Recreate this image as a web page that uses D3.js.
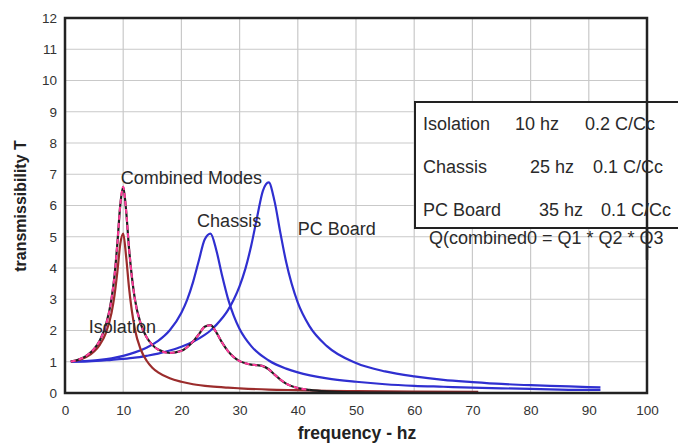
<!DOCTYPE html>
<html>
<head>
<meta charset="utf-8">
<script src="https://cdn.jsdelivr.net/npm/d3@7"></script>
<style>
  html, body { margin: 0; padding: 0; background: #fff; }
  svg { display: block; font-family: "Liberation Sans", Arial, Helvetica, sans-serif; }
</style>
</head>
<body>
<svg id="chart" width="678" height="443"></svg>
<script>
// ---- data ----
const xTicks = [0, 10, 20, 30, 40, 50, 60, 70, 80, 90, 100];
const yTicks = [0, 1, 2, 3, 4, 5, 6, 7, 8, 9, 10, 11, 12];

// Isolation mode (10 hz)
const isoFreq = [1, 2, 3, 4, 5, 6, 7, 8, 8.5, 9, 9.5, 10, 10.5, 11, 12, 13, 14, 15, 16, 18, 20, 22, 25, 28, 30, 35, 40, 45, 50, 60, 71];
const isoT    = [1.01, 1.04, 1.10, 1.19, 1.33, 1.55, 1.91, 2.57, 3.12, 3.88, 4.77, 5.10, 4.37, 3.37, 2.05, 1.40, 1.04, 0.81, 0.66, 0.47, 0.36, 0.28, 0.21, 0.17, 0.15, 0.11, 0.09, 0.07, 0.06, 0.045, 0.035];

// Chassis mode (25 hz)
const chFreq = [1, 2, 4, 6, 8, 10, 12, 14, 16, 18, 20, 21, 22, 23, 24, 25, 26, 27, 28, 29, 30, 32, 35, 38, 40, 45, 50, 55, 60, 65, 70, 75, 80, 85, 90, 92];
const chT    = [1.00, 1.01, 1.03, 1.06, 1.11, 1.19, 1.30, 1.45, 1.67, 2.01, 2.57, 2.99, 3.55, 4.24, 4.91, 5.10, 4.57, 3.75, 3.02, 2.47, 2.05, 1.50, 1.04, 0.78, 0.66, 0.47, 0.36, 0.28, 0.23, 0.20, 0.17, 0.15, 0.13, 0.11, 0.10, 0.10];

// PC Board mode (35 hz)
const pcFreq = [1, 4, 8, 10, 12, 14, 16, 18, 20, 22, 24, 25, 26, 28, 29, 30, 31, 32, 33, 34, 35, 36, 37, 38, 40, 42, 45, 50, 55, 60, 65, 70, 75, 80, 85, 90, 92];
const pcT    = [1.00, 1.01, 1.06, 1.09, 1.13, 1.19, 1.26, 1.36, 1.48, 1.64, 1.86, 2.00, 2.18, 2.65, 2.99, 3.42, 3.98, 4.72, 5.62, 6.47, 6.74, 6.14, 5.13, 4.19, 2.89, 2.14, 1.50, 0.96, 0.69, 0.53, 0.42, 0.35, 0.29, 0.25, 0.22, 0.19, 0.18];

// Combined modes
const cmbFreq = [1, 2, 3, 4, 5, 6, 7, 8, 8.5, 9, 9.5, 10, 10.5, 11, 12, 13, 14, 15, 16, 18, 20, 21, 22, 23, 24, 25, 26, 27, 28, 29, 30, 31, 32, 33, 34, 35, 36, 37, 38, 40, 42, 45, 50, 55, 60, 71];
const cmbT    = [1.01, 1.05, 1.12, 1.24, 1.41, 1.69, 2.16, 3.02, 3.74, 4.79, 6.02, 6.60, 5.84, 4.63, 3.01, 2.22, 1.79, 1.54, 1.39, 1.28, 1.35, 1.47, 1.65, 1.88, 2.12, 2.17, 1.94, 1.61, 1.34, 1.15, 1.02, 0.95, 0.91, 0.89, 0.86, 0.76, 0.59, 0.43, 0.30, 0.16, 0.10, 0.05, 0.02, 0.01, 0.006, 0.002];

// Annotation texts
const curveLabels = [
  { text: "Combined Modes", f: 9.6, T: 6.69 },
  { text: "Chassis", f: 22.7, T: 5.31 },
  { text: "PC Board", f: 40.0, T: 5.06 },
  { text: "Isolation", f: 4.1, T: 1.92 }
];
const legendRows = [
  ["Isolation", "10 hz", "0.2 C/Cc"],
  ["Chassis", "25 hz", "0.1 C/Cc"],
  ["PC Board", "35 hz", "0.1 C/Cc"]
];
const formulaText = "Q(combined0 = Q1 * Q2 * Q3";
const xTitle = "frequency - hz";
const yTitle = "transmissibility T";

// ---- drawing ----
const svg = d3.select("#chart");
const L = 65, R = 647, T0 = 18, B = 393;
const x = d3.scaleLinear().domain([0, 100]).range([L, R]);
const y = d3.scaleLinear().domain([0, 12]).range([B, T0]);

// grid
svg.append("g").selectAll("line").data(xTicks.slice(1, -1)).join("line")
  .attr("x1", d => x(d)).attr("x2", d => x(d)).attr("y1", T0).attr("y2", B)
  .attr("stroke", "#c9c9c9").attr("stroke-width", 1.2);
svg.append("g").selectAll("line").data(yTicks.slice(1, -1)).join("line")
  .attr("x1", L).attr("x2", R).attr("y1", d => y(d)).attr("y2", d => y(d))
  .attr("stroke", "#c9c9c9").attr("stroke-width", 1.2);

// axes (labels only, via d3 axis)
const xAxis = svg.append("g").attr("transform", `translate(0,${B})`)
  .call(d3.axisBottom(x).tickValues(xTicks).tickSize(0).tickPadding(12).tickFormat(d3.format("d")));
const yAxis = svg.append("g").attr("transform", `translate(${L},0)`)
  .call(d3.axisLeft(y).tickValues(yTicks).tickSize(0).tickPadding(8).tickFormat(d3.format("d")));
[xAxis, yAxis].forEach(a => {
  a.select(".domain").remove();
  a.selectAll("text").attr("font-size", 13.5).attr("fill", "#333")
    .attr("font-family", "'Liberation Sans', Arial, sans-serif");
});

// curves
const line = d3.line().x(d => x(d[0])).y(d => y(d[1])).curve(d3.curveMonotoneX);
const zip = (a, b) => a.map((v, i) => [v, b[i]]);

const g = svg.append("g");
g.append("path").datum(zip(chFreq, chT)).attr("d", line)
  .attr("fill", "none").attr("stroke", "#2f2fd0").attr("stroke-width", 2.2);
g.append("path").datum(zip(pcFreq, pcT)).attr("d", line)
  .attr("fill", "none").attr("stroke", "#2f2fd0").attr("stroke-width", 2.2);
g.append("path").datum(zip(isoFreq, isoT)).attr("d", line)
  .attr("fill", "none").attr("stroke", "#9b2c2c").attr("stroke-width", 2.2);
g.append("path").datum(zip(cmbFreq, cmbT)).attr("d", line)
  .attr("fill", "none").attr("stroke", "#1e1e1e").attr("stroke-width", 2.2);
g.append("path").datum(zip(cmbFreq, cmbT).filter(d => d[0] <= 42)).attr("d", line)
  .attr("fill", "none").attr("stroke", "#ff3c9a").attr("stroke-width", 2)
  .attr("stroke-dasharray", "5,3");

// plot frame
svg.append("rect").attr("x", L).attr("y", T0).attr("width", R - L).attr("height", B - T0)
  .attr("fill", "none").attr("stroke", "#222").attr("stroke-width", 2.5);

// curve labels
svg.append("g").selectAll("text").data(curveLabels).join("text")
  .attr("x", d => x(d.f)).attr("y", d => y(d.T))
  .attr("font-size", 18).attr("fill", "#2a2a2a")
  .text(d => d.text);

// legend box
const lg = svg.append("g");
lg.append("rect").attr("x", 415).attr("y", 102).attr("width", 300).attr("height", 126)
  .attr("fill", "#fff").attr("stroke", "#222").attr("stroke-width", 2);
// plot frame line passing over the box
lg.append("line").attr("x1", R).attr("x2", R).attr("y1", 102).attr("y2", 260)
  .attr("stroke", "#222").attr("stroke-width", 2.5);
const colX = [
  [423, 515, 585],
  [423, 530, 593],
  [423, 539, 601]
];
const rowY = [129.5, 172.5, 215.5];
legendRows.forEach((row, i) => {
  row.forEach((t, j) => {
    lg.append("text").attr("x", colX[i][j]).attr("y", rowY[i])
      .attr("font-size", 18).attr("fill", "#2a2a2a").text(t);
  });
});
lg.append("text").attr("x", 429).attr("y", 243.5).attr("font-size", 18)
  .attr("fill", "#2a2a2a").text(formulaText);

// axis titles
svg.append("text").attr("x", 357).attr("y", 439).attr("text-anchor", "middle")
  .attr("font-size", 17.5).attr("font-weight", "bold").attr("fill", "#222").text(xTitle);
svg.append("text").attr("transform", "translate(26,206) rotate(-90)")
  .attr("text-anchor", "middle").attr("font-size", 16).attr("font-weight", "bold")
  .attr("fill", "#222").text(yTitle);
</script>
</body>
</html>
